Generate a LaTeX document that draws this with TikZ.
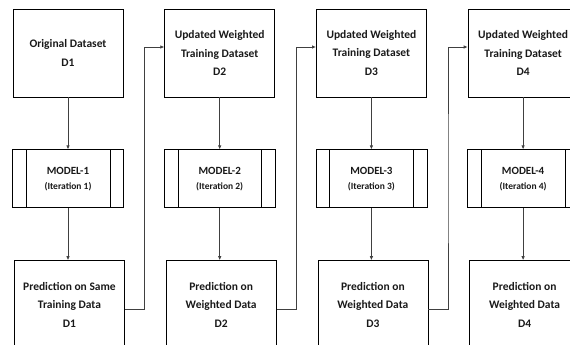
\documentclass[tikz,border=0pt]{standalone}
\usepackage{fontspec}
\setmainfont{Carlito}
\usetikzlibrary{positioning,calc,arrows.meta}

\tikzset{
    databox/.style={
        draw=black,
        line width=0.8pt,
        minimum width=110pt,
        minimum height=88pt,
        align=center,
        text=black!90,
        font=\bfseries\fontsize{11.5}{18.5}\selectfont
    },
    modelbox/.style={
        databox,
        minimum width=111pt,
        minimum height=58pt,
        font=\bfseries\fontsize{11}{18}\selectfont
    },
    link/.style={draw=black!75, line width=0.75pt},
    flow/.style={link, -{Latex[length=4pt,width=3.5pt]}}
}

\begin{document}
\begin{tikzpicture}[x=1pt, y=1pt]
    \clip (0,0) rectangle (570,-345);
    % one column for each iteration
    \foreach \i/\dtext/\ptext in {
        1/{Original Dataset\\D1}/{Prediction on Same\\Training Data\\D1},
        2/{Updated Weighted\\Training Dataset\\D2}/{Prediction on\\Weighted Data\\D2},
        3/{Updated Weighted\\Training Dataset\\D3}/{Prediction on\\Weighted Data\\D3},
        4/{Updated Weighted\\Training Dataset\\D4}/{Prediction on\\Weighted Data\\D4}}
    {
        \node[databox] (d\i) at ({68+151.7*(\i-1)},-53) {\dtext};
        \node[modelbox, below=52pt of d\i] (m\i)
            {MODEL-\i\\[-3pt]{\fontsize{9.5}{11}\selectfont(Iteration \i)}};
        \node[databox, below=52pt of m\i, xshift=1.5pt] (p\i) {\ptext};
        \draw ([xshift=14pt]m\i.north west) -- ([xshift=14pt]m\i.south west);
        \draw ([xshift=-14pt]m\i.north east) -- ([xshift=-14pt]m\i.south east);
        \draw[flow] (d\i) -- (d\i |- m\i.north);
        \draw[flow] (m\i) -- (m\i |- p\i.north);
    }
    % feed the weighted data to the next model
    \foreach \i [count=\j from 2] in {1,2,3}
        \draw[flow] ([yshift=-5pt]p\i.east)
            -| ($(p\i.east)!0.5!(d\j.west)$)
            |- ([yshift=6pt]d\j.west);
\end{tikzpicture}
\end{document}
